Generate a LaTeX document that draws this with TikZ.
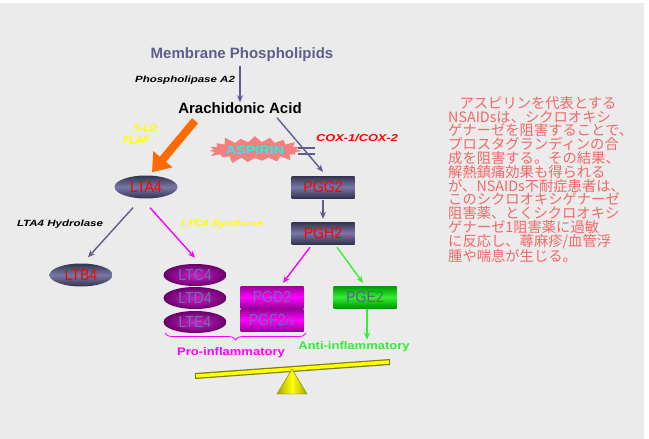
\documentclass[tikz,border=0pt]{standalone}
\usepackage{fontspec}
\usepackage{graphicx}
\setmainfont{Liberation Sans}
\newfontfamily\cjk{Noto Sans CJK JP}
\usetikzlibrary{shapes.geometric,shapes.symbols,arrows.meta,calc,decorations.pathreplacing,shadings}
\definecolor{bggray}{HTML}{EBEBEB}
\definecolor{slate}{HTML}{5E5E8E}
\definecolor{slatedark}{HTML}{33334F}
\definecolor{slatelight}{HTML}{7878A8}
\definecolor{purp}{HTML}{CC22CC}
\definecolor{purpdark}{HTML}{6A006A}
\definecolor{purptext}{HTML}{7070B0}
\definecolor{mag}{HTML}{FF00FF}
\definecolor{magdark}{HTML}{990099}
\definecolor{grn}{HTML}{33EE33}
\definecolor{grndark}{HTML}{009900}
\definecolor{orng}{HTML}{FF6A00}
\definecolor{yel}{HTML}{FFFF00}
\definecolor{olive}{HTML}{808000}
\definecolor{jp}{HTML}{F26868}
\definecolor{salmon}{HTML}{F57F7F}
\definecolor{cyanish}{HTML}{22EEEE}
\newcommand{\cnd}[1]{\scalebox{0.88}[1]{#1}}
\newcommand{\wde}[1]{\scalebox{1.28}[1]{#1}}
\tikzset{
  lbl/.style={font=\fontsize{16}{16}\selectfont,inner sep=0pt},
  slatenode/.style={top color=slatedark,bottom color=slatedark,middle color=slatelight,
    text=red,lbl},
  slaterect/.style={slatenode,rectangle,minimum width=63pt,minimum height=22pt},
  slateell/.style={slatenode,ellipse,minimum width=63pt,minimum height=23pt},
  purpell/.style={ellipse,inner color=purp,outer color=purpdark,minimum width=63pt,minimum height=22pt,
    text=purptext,lbl},
  magrect/.style={rectangle,top color=magdark,bottom color=magdark,middle color=mag,minimum width=63pt,
    minimum height=22pt,text=purptext,lbl},
  grnrect/.style={rectangle,top color=grndark,bottom color=grndark,middle color=grn,minimum width=63pt,
    minimum height=22pt,text=slate,lbl},
  enzyme/.style={font=\fontsize{9}{10}\selectfont\bfseries\itshape,inner sep=0pt},
  slatearrow/.style={draw=slate,line width=1.4pt,-{Stealth[length=7pt,width=6pt]}},
  magarrow/.style={draw=mag,line width=1.4pt,-{Stealth[length=7pt,width=6pt]}},
  grnarrow/.style={draw=grn,line width=1.4pt,-{Stealth[length=7pt,width=6pt]}},
}
\begin{document}
\begin{tikzpicture}[x=1pt,y=-1pt]
\useasboundingbox (0,0) rectangle (649,439);
\fill[white] (0,0) rectangle (649,439);
\fill[bggray] (0,3) rectangle (644,439);

% top
\node[text=slate,font=\fontsize{15}{15}\selectfont\bfseries,inner sep=0pt] (mem) at (242,55) {Membrane Phospholipids};
\node[text=black,font=\fontsize{15}{15}\selectfont\bfseries,inner sep=0pt] (ara) at (240,108) {Arachidonic Acid};
\draw[slatearrow] (mem.south) ++(-2,4) coordinate (m1) -- (m1 |- ara.north);
\node[enzyme,text=black] (pla) at (185,80) {\wde{Phospholipase A2}};

% left branch
\node[slateell] (lta4) at (146,187) {\cnd{LTA4}};
\draw[draw=orng,line width=8pt,-{Triangle[length=17pt,width=24pt]}] (ara.south) ++(-45,7) -- ($(lta4.north)+(6,-3)$);
\node[enzyme,text=yel,align=left,font=\fontsize{10}{12.5}\selectfont\bfseries\itshape] (flap) at (140,134) {\hspace{11pt}5-LO\\FLAP};

% COX branch
\node[slaterect] (pgg2) at (323,187) {\cnd{PGG2}};
\node[slaterect] (pgh2) at (323,233) {\cnd{PGH2}};
\draw[slatearrow] (ara.south) ++(37,4) -- ($(pgg2.north)+(0,-4)$);
\draw[slatearrow] (pgg2.south) ++(0,2) coordinate (p1) -- ($(p1 |- pgh2.north)+(0,-3)$);
\node[enzyme,text=red,font=\fontsize{10}{10}\selectfont\bfseries\itshape] (cox) at (357,138) {\wde{COX-1/COX-2}};
\node[starburst,starburst points=19,starburst point height=8pt,fill=salmon,minimum width=86pt,minimum height=32pt,
  inner sep=0pt,text=cyanish,font=\fontsize{12}{12}\selectfont\bfseries] (asp) at (255,150) {\scalebox{1.2}[1]{ASPIRIN}};
\draw[slate,line width=2pt] (298,148) -- (315,148) (298,154) -- (315,154);

% leukotrienes
\node[slateell] (ltb4) at (81,275) {\cnd{LTB4}};
\draw[slatearrow] ($(lta4.south)+(-13,9)$) -- ($(ltb4.north)+(7,-6)$);
\node[enzyme,text=black] (hyd) at (60,224) {\wde{LTA4 Hydrolase}};
\node[purpell] (ltc4) at (195,275) {\cnd{LTC4}};
\node[purpell] (ltd4) at (195,298) {\cnd{LTD4}};
\node[purpell] (lte4) at (195,322) {\cnd{LTE4}};
\draw[magarrow] ($(lta4.south)+(4,9)$) -- ($(ltc4.north)+(0,-6)$);
\node[enzyme,text=yel] (syn) at (222,224) {\wde{LTC4 Synthase}};

% prostaglandins
\node[magrect] (pgd2) at (272,297) {\cnd{PGD2}};
\node[magrect] (pgf2) at (272,320) {\cnd{PGF2$\alpha$}};
\node[grnrect] (pge2) at (365,297) {\cnd{PGE2}};
\draw[magarrow] ($(pgh2.south)+(-13,3)$) -- ($(pgd2.north)+(11,-3)$);
\draw[grnarrow] ($(pgh2.south)+(14,3)$) -- ($(pge2.north)+(-2,-3)$);

% outcomes
\node[text=mag,font=\fontsize{13}{13}\selectfont\bfseries,inner sep=0pt] (pro) at (231,353) {\scalebox{1}[0.85]{Pro-inflammatory}};
\node[text=grn,font=\fontsize{13}{13}\selectfont\bfseries,inner sep=0pt] (anti) at (354,347) {\scalebox{1}[0.85]{Anti-inflammatory}};
\draw[grnarrow] ($(pge2.south)+(2,1)$) coordinate (g1) -- ($(g1 |- anti.north)+(0,-2)$);
\draw[mag,line width=0.8pt,decorate,decoration={brace,amplitude=7pt,mirror}]
  (165,333) -- (306,333);

% balance
\draw[olive,line width=6pt] (195,376) -- (390,362);
\draw[yel,line width=3.5pt] (196,376) -- (389,362);
\shade[left color=olive!70!yel,right color=olive!70!yel,middle color=yel,draw=olive,line width=0.4pt]
  (292,369) -- (307,394) -- (277,394) -- cycle;

% Japanese text
\node[anchor=north west,align=left,text=jp,inner sep=0pt,font=\cjk\fontsize{14.3}{13.8}\selectfont] (jptext) at (448,96)
{\hspace*{0.8em}アスピリンを代表とする\\NSAIDsは、シクロオキシ\\ゲナーゼを阻害することで、\\プロスタグランディンの合\\成を阻害する。その結果、\\解熱鎮痛効果も得られる\\が、NSAIDs不耐症患者は、\\このシクロオキシゲナーゼ\\阻害薬、とくシクロオキシ\\ゲナーゼ1阻害薬に過敏\\に反応し、蕁麻疹/血管浮\\腫や喘息が生じる。};
\end{tikzpicture}
\end{document}
